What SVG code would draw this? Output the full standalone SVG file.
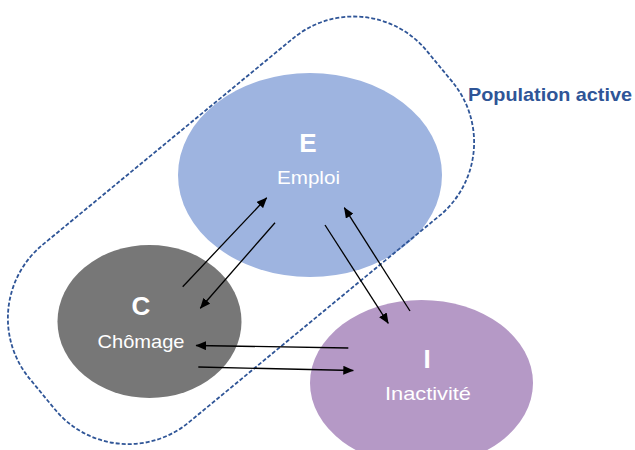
<svg xmlns="http://www.w3.org/2000/svg" width="635" height="450" viewBox="0 0 635 450">
  <defs>
    <marker id="ah" markerUnits="userSpaceOnUse" markerWidth="11" markerHeight="9" refX="10" refY="4.5" orient="auto">
      <path d="M0,0 L10.5,4.5 L0,9 z" fill="#000"/>
    </marker>
    <style>
      .lbl{font-family:"Liberation Sans",Arial,sans-serif;fill:#fff;text-anchor:middle}
      .big{font-size:26px;font-weight:bold}
      .sub{font-size:18.5px}
      .conn line{stroke:#000;stroke-width:1.3;marker-end:url(#ah)}
    </style>
  </defs>
  <rect width="635" height="450" fill="#fff"/>
  <g id="node-E">
    <ellipse cx="310" cy="175" rx="132" ry="102" fill="#9EB4E0"/>
    <text class="lbl big" x="308" y="152">E</text>
    <text class="lbl sub" x="308.5" y="183.5" textLength="63" lengthAdjust="spacingAndGlyphs">Emploi</text>
  </g>
  <g id="node-C">
    <ellipse cx="149.5" cy="321.5" rx="92" ry="76.5" fill="#777777"/>
    <text class="lbl big" x="141" y="315">C</text>
    <text class="lbl sub" x="141" y="347.5" textLength="87" lengthAdjust="spacingAndGlyphs">Chômage</text>
  </g>
  <g id="node-I">
    <ellipse cx="421.5" cy="383" rx="111.5" ry="83" fill="#B599C6"/>
    <text class="lbl big" x="427" y="368">I</text>
    <text class="lbl sub" x="428" y="400" textLength="86" lengthAdjust="spacingAndGlyphs">Inactivité</text>
  </g>
  <g id="population-active">
    <rect x="-257.5" y="-115" width="515" height="230" rx="95" transform="translate(241,230.3) rotate(-39.5)" fill="none" stroke="#2F5597" stroke-width="1.8" stroke-dasharray="4 2"/>
    <text x="468" y="101" font-family="'Liberation Sans',Arial,sans-serif" font-size="19" font-weight="bold" fill="#2F5597" textLength="164" lengthAdjust="spacingAndGlyphs">Population active</text>
  </g>
  <g id="connectors" class="conn">
    <line x1="182.7" y1="286.7" x2="266.7" y2="197.8"/>
    <line x1="275" y1="222.7" x2="200.3" y2="308.3"/>
    <line x1="325" y1="225" x2="388.3" y2="323.3"/>
    <line x1="410" y1="311" x2="344.3" y2="207.7"/>
    <line x1="348.3" y1="348" x2="196" y2="345.5"/>
    <line x1="198.3" y1="367" x2="353.3" y2="370.5"/>
  </g>
</svg>
